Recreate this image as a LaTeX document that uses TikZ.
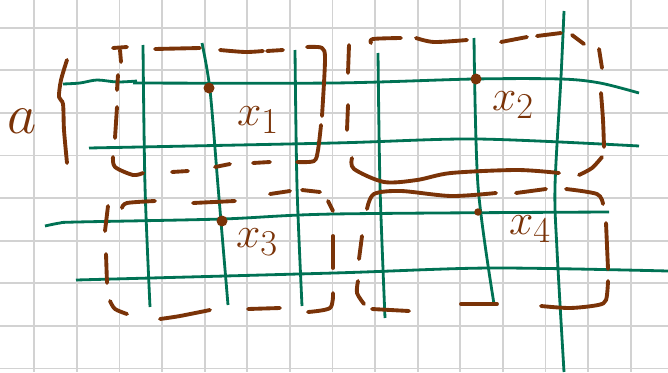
\documentclass[tikz,border=0pt]{standalone}
\usepackage{amsmath}
\usepackage{xcolor}
\usepackage{tikz}
\definecolor{gridgray}{RGB}{210,210,210}
\definecolor{wiregreen}{RGB}{0,114,84}
\definecolor{penbrown}{RGB}{122,51,8}

\begin{document}
\begin{tikzpicture}[
  x=0.02cm, y=-0.02cm,
  gridline/.style={gridgray, line width=1.1pt},
  wire/.style={wiregreen, line width=1.6pt},
  pen/.style={penbrown, line width=2.2pt, line cap=round, line join=round},
  dot/.style={circle, fill=penbrown, minimum size=2.2mm, inner sep=0pt},
  lab/.style={text=penbrown, inner sep=0pt, font=\Huge}
]
\useasboundingbox (0,0) rectangle (668,372);
% squared paper
\foreach \i in {0,...,14}
  \draw[gridline] ({34.3+42.6*\i},0) -- ++(0,372);
\foreach \j in {0,...,8}
  \draw[gridline] (0,{27.7+42.6*\j}) -- ++(668,0);
% green rows
\draw[wire] plot[smooth] coordinates {(63,84) (80,83) (97,80) (117,82) (137,81)};
\draw[wire] plot[smooth] coordinates {(133,83) (334,83) (474,79) (561,79) (600,83) (639,93)};
\draw[wire] plot[smooth] coordinates {(89,148) (334,143) (477,139) (639,146)};
\draw[wire] plot[smooth] coordinates {(45,226) (60,223) (77,222) (222,219) (334,214) (609,212)};
\draw[wire] plot[smooth] coordinates {(76,280) (334,273) (491,268) (668,271)};
% green columns
\draw[wire] plot[smooth] coordinates {(143,45) (145,186) (150,307)};
\draw[wire] plot[smooth] coordinates {(202,43) (210,90) (218,186) (228,305)};
\draw[wire] plot[smooth] coordinates {(295,50) (297,186) (302,306)};
\draw[wire] plot[smooth] coordinates {(378,53) (380,186) (385,318)};
\draw[wire] plot[smooth] coordinates {(474,38) (478,186) (494,304)};
\draw[wire] plot[smooth] coordinates {(564,11) (561,77) (555,186) (557,250) (564,372)};
% block x_1
\draw[pen] (113,48) -- (127,47);
\draw[pen] (120,50) -- (121,62);
\draw[pen] (155,49) -- (200,48);
\draw[pen] plot[smooth] coordinates {(220,50) (245,52) (263,51)};
\draw[pen] (267,51) -- (283,50);
\draw[pen] plot[smooth] coordinates {(307,47) (322,48) (325,60) (322,116)};
\draw[pen] plot[smooth] coordinates {(297,162) (314,161) (318,150) (321,125)};
\draw[pen] (270,162) -- (253,163);
\draw[pen] (230,164) -- (215,167);
\draw[pen] (188,171) -- (172,172);
\draw[pen] plot[smooth] coordinates {(143,173) (133,175) (115,167) (113,157)};
\draw[pen] (115,138) -- (117,107);
\draw[pen] (117,90) -- (118,75);
% block x_2
\draw[pen] (349,45) -- (348,73);
\draw[pen] (348,105) -- (347,130);
\draw[pen] plot[smooth] coordinates {(371,43) (373,39) (401,38)};
\draw[pen] plot[smooth] coordinates {(416,38) (434,42) (467,40)};
\draw[pen] (501,42) -- (527,37);
\draw[pen] (537,36) -- (561,33);
\draw[pen] (572,35) -- (584,44);
\draw[pen] (599,49) -- (602,68);
\draw[pen] plot[smooth] coordinates {(601,93) (603,120) (604,147)};
\draw[pen] plot[smooth] coordinates {(602,157) (592,168) (579,175)};
\draw[pen] plot[smooth] coordinates {(352,158) (354,169) (384,182) (417,180) (451,173) (517,170) (559,173)};
% block x_3
\draw[pen] plot[smooth] coordinates {(122,208) (127,203) (155,201)};
\draw[pen] (193,203) -- (235,201);
\draw[pen] (270,194) -- (290,191);
\draw[pen] (302,190) -- (320,192);
\draw[pen] (328,201) -- (333,211);
\draw[pen] (333,236) -- (333,268);
\draw[pen] plot[smooth] coordinates {(333,293) (330,308) (308,312)};
\draw[pen] (280,308) -- (248,309);
\draw[pen] plot[smooth] coordinates {(210,310) (180,316) (160,319)};
\draw[pen] plot[smooth] coordinates {(127,314) (115,309) (110,301)};
\draw[pen] (107,283) -- (106,254);
\draw[pen] (105,231) -- (108,206);
% block x_4
\draw[pen] plot[smooth] coordinates {(367,209) (374,194) (401,191) (451,196) (496,193)};
\draw[pen] (516,193) -- (546,189);
\draw[pen] plot[smooth] coordinates {(566,189) (597,194) (603,204)};
\draw[pen] (606,223) -- (608,269);
\draw[pen] plot[smooth] coordinates {(608,281) (606,300) (598,305) (570,308) (541,306)};
\draw[pen] (497,304) -- (461,304);
\draw[pen] (409,311) -- (372,309);
\draw[pen] plot[smooth] coordinates {(364,304) (357,293) (358,281)};
\draw[pen] (359,259) -- (362,236);
% brace for a
\draw[pen] plot[smooth] coordinates {(67,60) (61,80) (59,97) (63,104) (64,130) (67,163)};
% marked crossings
\node[dot] (d1) at (209,88) {};
\node[dot] (d2) at (476,79) {};
\node[dot] (d3) at (222,221) {};
\node[dot, minimum size=1.5mm] (d4) at (478,212) {};
% labels
\node[lab] (x1) at (258,120) {$x_1$};
\node[lab] (x2) at (513,105) {$x_2$};
\node[lab] (x3) at (257,242) {$x_3$};
\node[lab] (x4) at (530,229) {$x_4$};
\node[lab, scale=1.3, transform shape] (a) at (22,121) {$a$};
\end{tikzpicture}
\end{document}
